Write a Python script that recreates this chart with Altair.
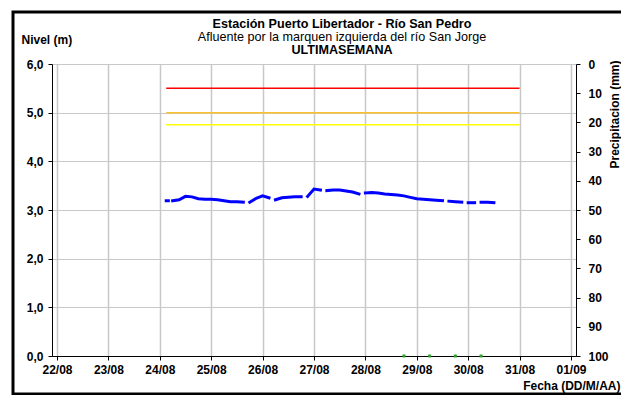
import altair as alt
import pandas as pd

# ---------------- data ----------------
title_lines = [
    "Estación Puerto Libertador - Río San Pedro",
    "Afluente por la marquen izquierda del río San Jorge",
    "ULTIMASEMANA",
]
y_left_title = "Nivel (m)"
y_right_title = "Precipitacion (mm)"
x_title = "Fecha (DD/M/AA)"

day_ticks = ["2023-08-22", "2023-08-23", "2023-08-24", "2023-08-25", "2023-08-26",
             "2023-08-27", "2023-08-28", "2023-08-29", "2023-08-30", "2023-08-31",
             "2023-09-01"]

# level series: hours after 24/08 00:00, value (m), continuous segment id
level_hours = [3, 4,
               6, 9, 12, 15, 18, 21, 24, 27, 30, 33, 36, 39,
               42, 45, 48, 51,
               54, 57, 60, 63, 66,
               69, 72, 75,
               78, 81, 84, 87, 90, 93,
               96, 99, 102, 105, 108, 111, 114, 117, 120, 123, 126, 129, 132,
               135, 138, 141,
               144, 147,
               150, 153, 156]
level_values = [3.19, 3.19,
                3.19, 3.21, 3.28, 3.27, 3.23, 3.22, 3.22, 3.21, 3.19, 3.17, 3.17, 3.16,
                3.16, 3.24, 3.29, 3.25,
                3.21, 3.25, 3.26, 3.27, 3.27,
                3.28, 3.43, 3.41,
                3.40, 3.41, 3.41, 3.39, 3.37, 3.33,
                3.35, 3.36, 3.35, 3.33, 3.32, 3.31, 3.29, 3.26, 3.23, 3.22, 3.21, 3.20, 3.19,
                3.18, 3.17, 3.16,
                3.15, 3.15,
                3.16, 3.16, 3.15]
level_segments = [1, 1,
                  2, 2, 2, 2, 2, 2, 2, 2, 2, 2, 2, 2,
                  3, 3, 3, 3,
                  4, 4, 4, 4, 4,
                  5, 5, 5,
                  6, 6, 6, 6, 6, 6,
                  7, 7, 7, 7, 7, 7, 7, 7, 7, 7, 7, 7, 7,
                  8, 8, 8,
                  9, 9,
                  10, 10, 10]

threshold_values = [5.5, 5.0, 4.75]
threshold_names = ["Rojo", "Naranja", "Amarillo"]
threshold_colors = ["#ff0000", "#fbc02d", "#ffff00"]
threshold_start = "2023-08-24T03:00:00"
threshold_end = "2023-08-31T00:00:00"

marker_times = ["2023-08-28T18:00:00", "2023-08-29T06:00:00",
                "2023-08-29T18:00:00", "2023-08-30T06:00:00"]
marker_values = [0, 0, 0, 0]

precip_times = marker_times
precip_mm = [0, 0, 0, 0]

# ---------------- tables ----------------
base_time = pd.Timestamp("2023-08-24T00:00:00")
level_df = pd.DataFrame({
    "fecha": [(base_time + pd.Timedelta(hours=h)).strftime("%Y-%m-%dT%H:%M:%S") for h in level_hours],
    "nivel": level_values,
    "seg": level_segments,
})
thr_df = pd.DataFrame({
    "nivel": threshold_values,
    "alerta": threshold_names,
    "inicio": [threshold_start] * len(threshold_values),
    "fin": [threshold_end] * len(threshold_values),
})
mark_df = pd.DataFrame({"fecha": marker_times, "nivel": marker_values})
precip_df = pd.DataFrame({"fecha": precip_times, "mm": precip_mm})

FONT = "Liberation Sans"
GRID = "#c8c8c8"
FS = 12
TFS = 12.6


def dt(s):
    t = pd.Timestamp(s)
    return alt.DateTime(year=t.year, month=t.month, date=t.day, hours=t.hour)


x_scale = alt.Scale(domain=[dt(day_ticks[0]), dt(day_ticks[-1])])
x_axis = alt.Axis(
    values=[dt(d) for d in day_ticks], format="%d/%m", title=x_title,
    labelFont=FONT, labelFontWeight="bold", labelFontSize=FS, labelColor="black",
    labelPadding=4, tickSize=4, tickColor="black", domainColor="black",
    grid=True, gridColor=GRID, gridWidth=1.5,
    titleFont=FONT, titleFontWeight="bold", titleFontSize=FS, titleColor="black",
    titleAnchor="end", titleAlign="right", titleX=568, titleY=29, titleBaseline="middle",
    labelFlush=False,
)
y_scale = alt.Scale(domain=[0, 6])
y_axis = alt.Axis(
    values=[0, 1, 2, 3, 4, 5, 6],
    labelExpr="replace(format(datum.value, '.1f'), '.', ',')",
    title=y_left_title, titleAngle=0, titleAlign="left", titleBaseline="middle",
    titleX=-31, titleY=-25,
    titleFont=FONT, titleFontWeight="bold", titleFontSize=FS, titleColor="black",
    labelFont=FONT, labelFontWeight="bold", labelFontSize=FS, labelColor="black",
    labelPadding=5, tickSize=4, tickColor="black", domainColor="black",
    grid=True, gridColor=GRID, gridWidth=1,
)

levels = alt.Chart(level_df).mark_line(color="#0000ff", strokeWidth=3, strokeCap="square").encode(
    x=alt.X("fecha:T", scale=x_scale, axis=x_axis),
    y=alt.Y("nivel:Q", scale=y_scale, axis=y_axis),
    detail="seg:N",
)

thresholds = alt.Chart(thr_df).mark_rule(strokeWidth=1.5).encode(
    x="inicio:T",
    x2="fin:T",
    y="nivel:Q",
    color=alt.Color("alerta:N", scale=alt.Scale(domain=threshold_names, range=threshold_colors), legend=None),
)

markers = alt.Chart(mark_df).mark_square(color="#2e9e2e", size=9, opacity=1).encode(
    x="fecha:T",
    y="nivel:Q",
)

left = alt.layer(levels, thresholds, markers)

precip = alt.Chart(precip_df).mark_bar(color="#00b0f0", size=4).encode(
    x="fecha:T",
    y=alt.Y("mm:Q", scale=alt.Scale(domain=[0, 100], reverse=True),
            axis=alt.Axis(orient="right", values=list(range(0, 101, 10)), grid=False,
                          title=y_right_title, titleAngle=270, titleAlign="center",
                          titleBaseline="middle", titleX=38, titleY=50,
                          titleFont=FONT, titleFontWeight="bold", titleFontSize=FS,
                          titleColor="black",
                          labelFont=FONT, labelFontWeight="bold", labelFontSize=FS,
                          labelColor="black", labelPadding=8, tickSize=4,
                          tickColor="black", domainColor="black")),
    y2=alt.datum(0),
)

one = pd.DataFrame({"k": [0]})
t1 = alt.Chart(one).mark_text(font=FONT, fontSize=TFS, fontWeight="bold", align="center",
                              baseline="middle", color="black").encode(
    x=alt.value(290), y=alt.value(-40), text=alt.value(title_lines[0]))
t2 = alt.Chart(one).mark_text(font=FONT, fontSize=TFS, fontWeight="normal", align="center",
                              baseline="middle", color="black").encode(
    x=alt.value(290), y=alt.value(-27), text=alt.value(title_lines[1]))
t3 = alt.Chart(one).mark_text(font=FONT, fontSize=TFS, fontWeight="bold", align="center",
                              baseline="middle", color="black").encode(
    x=alt.value(290), y=alt.value(-14), text=alt.value(title_lines[2]))

border = alt.Chart(one).mark_rect(filled=False, stroke="black", strokeWidth=3).encode(
    x=alt.value(-39), x2=alt.value(640), y=alt.value(-52), y2=alt.value(330))

chart = alt.layer(left, precip, t1, t2, t3, border).resolve_scale(y="independent").properties(
    width=524, height=292,
    autosize=alt.AutoSizeParams(type="none"),
    padding={"left": 44, "top": 56, "right": 45, "bottom": 39},
).configure_view(stroke=None).configure(background="white")

chart.save("out.html", embed_options={"renderer": "svg", "actions": False})
